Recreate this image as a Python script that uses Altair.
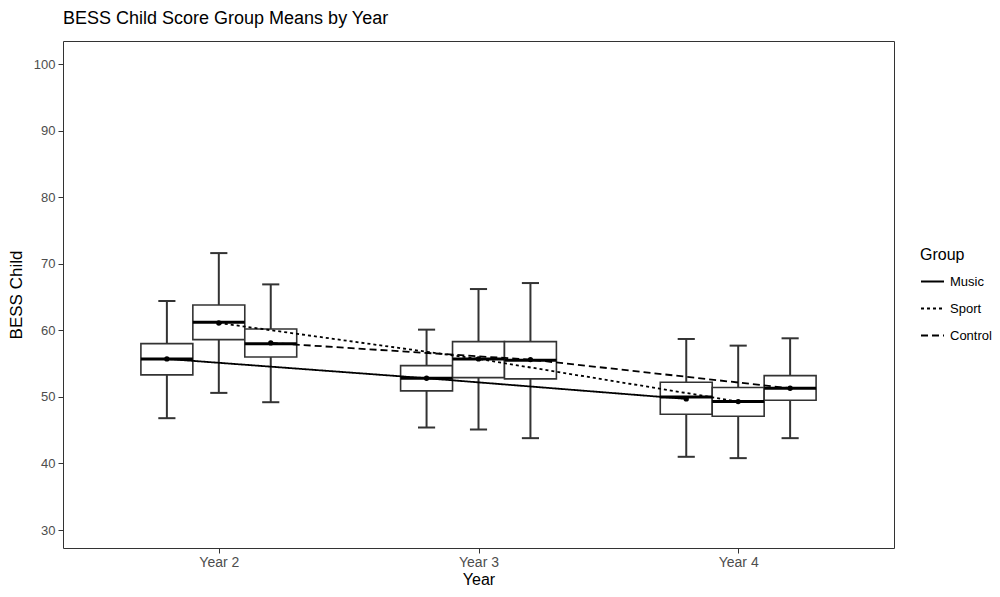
import altair as alt
import pandas as pd

years = ["Year 2", "Year 3", "Year 4"]
groups = ["Music", "Sport", "Control"]

# order: Year 2 (Music, Sport, Control), Year 3 (...), Year 4 (...)
whisker_low = [46.8, 50.6, 49.2, 45.4, 45.1, 43.8, 41.0, 40.8, 43.8]
q1 = [53.3, 58.6, 56.0, 50.9, 52.9, 52.7, 47.4, 47.1, 49.5]
median = [55.7, 61.2, 58.0, 52.8, 55.7, 55.5, 50.0, 49.3, 51.3]
q3 = [58.0, 63.8, 60.2, 54.7, 58.3, 58.3, 52.2, 51.4, 53.2]
whisker_high = [64.4, 71.6, 66.9, 60.1, 66.2, 67.1, 58.7, 57.7, 58.8]
means = [55.7, 61.1, 58.1, 52.8, 55.7, 55.6, 49.7, 49.3, 51.3]

dodge = 0.2
box_w = 0.2
cap_w = 0.066

rows = []
for i, yr in enumerate(years):
    for j, g in enumerate(groups):
        k = i * len(groups) + j
        xc = (i + 1) + (j - (len(groups) - 1) / 2) * dodge
        rows.append(dict(
            year=yr, group=g, xc=xc,
            bl=xc - box_w / 2, br=xc + box_w / 2,
            cl=xc - cap_w / 2, cr=xc + cap_w / 2,
            lo=whisker_low[k], q1=q1[k], med=median[k], q3=q3[k],
            hi=whisker_high[k], mean=means[k],
        ))
df = pd.DataFrame(rows)

FONT = "Liberation Sans"
label_expr = "[" + ",".join("'%s'" % y for y in years) + "][datum.value - 1]"

xscale = alt.Scale(domain=[0.4, 3.6], nice=False, zero=False)
yscale = alt.Scale(domain=[27.3, 103.46], nice=False, zero=False)
xaxis = alt.Axis(values=[1, 2, 3], labelExpr=label_expr, title="Year",
                 labelFontSize=14, labelPadding=2, titlePadding=2, titleFontSize=16)
yaxis = alt.Axis(values=list(range(30, 101, 10)), title="BESS Child",
                 labelFontSize=13, labelPadding=3, titlePadding=8, titleFontSize=17)


def X(field):
    return alt.X(field, type="quantitative", scale=xscale, axis=xaxis, title="Year")


def Y(field):
    return alt.Y(field, type="quantitative", scale=yscale, axis=yaxis, title="BESS Child")


base = alt.Chart(df)

whiskers = base.mark_rule(color="#333333", strokeWidth=2).encode(
    x=X("xc"), y=Y("lo"), y2="hi"
)
cap_lo = base.mark_rule(color="#333333", strokeWidth=2).encode(
    x=X("cl"), x2="cr", y=Y("lo")
)
cap_hi = base.mark_rule(color="#333333", strokeWidth=2).encode(
    x=X("cl"), x2="cr", y=Y("hi")
)
boxes = base.mark_bar(fill="white", stroke="#333333", strokeWidth=1.6).encode(
    x=X("bl"), x2="br", y=Y("q1"), y2="q3"
)
medians = base.mark_rule(color="black", strokeWidth=3).encode(
    x=X("bl"), x2="br", y=Y("med")
)
lines = base.mark_line(color="black", strokeWidth=1.8).encode(
    x=X("xc"), y=Y("mean"),
    strokeDash=alt.StrokeDash(
        "group:N",
        scale=alt.Scale(domain=groups, range=[[1, 0], [3, 3], [7, 4]]),
        legend=alt.Legend(
            title="Group", orient="none", legendX=857, legendY=206,
            symbolType="stroke", symbolSize=529, symbolStrokeColor="black",
            symbolStrokeWidth=2, labelFontSize=13, labelFont=FONT,
            labelColor="black", titleFontSize=16, titleFont=FONT,
            titleFontWeight="normal", titleColor="black", rowPadding=7,
            titlePadding=6, padding=0, labelOffset=5,
        ),
    ),
    order="xc:Q",
)
points = base.mark_circle(color="black", size=28, opacity=1).encode(
    x=X("xc"), y=Y("mean")
)

chart = alt.layer(
    whiskers, cap_lo, cap_hi, boxes, medians, lines, points
).properties(
    width=831, height=507,
    title=alt.TitleParams(
        "BESS Child Score Group Means by Year", anchor="start", frame="group",
        fontSize=18, fontWeight="normal", font=FONT, color="black", offset=13,
    ),
    autosize=alt.AutoSizeParams(type="none"),
    padding={"left": 55, "top": 33, "right": 98, "bottom": 40},
).configure_view(
    stroke="#333333", strokeWidth=1
).configure_axis(
    labelFont=FONT, labelColor="#4d4d4d",
    tickColor="#333333", tickSize=5, domain=False, grid=False,
    titleFont=FONT, titleColor="black", titleFontWeight="normal",
)

chart.save("out.html", embed_options={"renderer": "svg", "actions": False})
